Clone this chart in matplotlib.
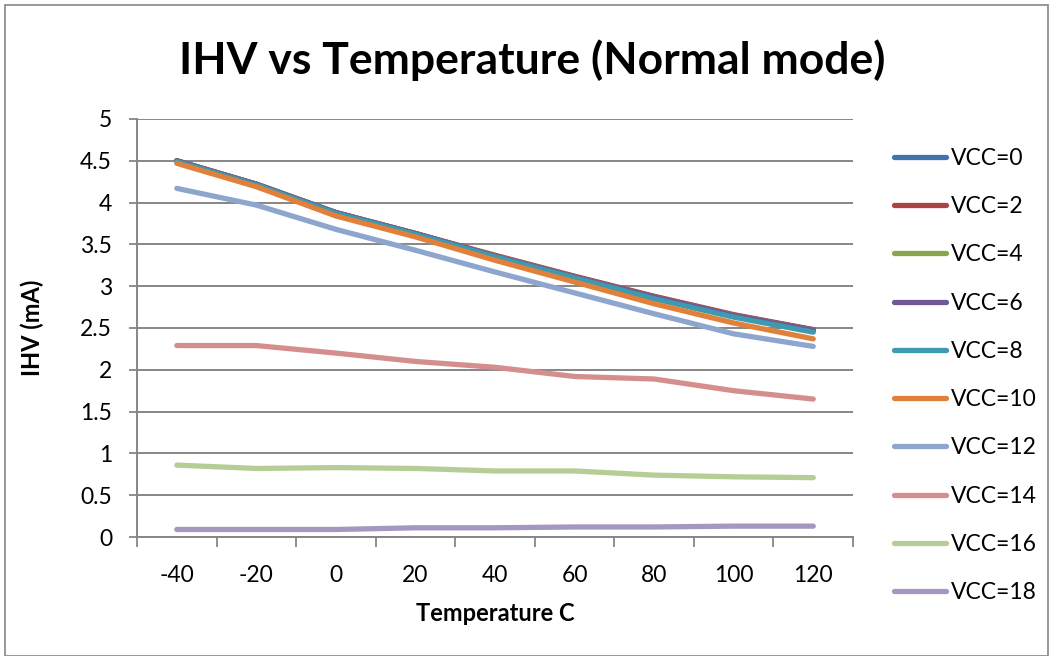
import matplotlib.pyplot as plt
from matplotlib.patches import Rectangle

# Data
temps = [-40, -20, 0, 20, 40, 60, 80, 100, 120]
vcc_labels = ['VCC=0', 'VCC=2', 'VCC=4', 'VCC=6', 'VCC=8',
              'VCC=10', 'VCC=12', 'VCC=14', 'VCC=16', 'VCC=18']

ihv_vcc0 = [4.50, 4.22, 3.88, 3.63, 3.36, 3.11, 2.87, 2.65, 2.48]
ihv_vcc2 = [4.50, 4.22, 3.88, 3.63, 3.37, 3.12, 2.88, 2.66, 2.48]
ihv_vcc4 = [4.50, 4.22, 3.88, 3.63, 3.36, 3.11, 2.87, 2.65, 2.47]
ihv_vcc6 = [4.50, 4.22, 3.88, 3.63, 3.36, 3.11, 2.87, 2.65, 2.47]
ihv_vcc8 = [4.49, 4.21, 3.87, 3.62, 3.35, 3.10, 2.85, 2.63, 2.45]
ihv_vcc10 = [4.47, 4.19, 3.84, 3.59, 3.31, 3.05, 2.79, 2.56, 2.37]
ihv_vcc12 = [4.17, 3.97, 3.68, 3.43, 3.17, 2.92, 2.67, 2.43, 2.28]
ihv_vcc14 = [2.29, 2.29, 2.20, 2.10, 2.03, 1.92, 1.89, 1.75, 1.65]
ihv_vcc16 = [0.86, 0.82, 0.83, 0.82, 0.79, 0.79, 0.74, 0.72, 0.71]
ihv_vcc18 = [0.09, 0.09, 0.09, 0.11, 0.11, 0.12, 0.12, 0.13, 0.13]

series = [ihv_vcc0, ihv_vcc2, ihv_vcc4, ihv_vcc6, ihv_vcc8,
          ihv_vcc10, ihv_vcc12, ihv_vcc14, ihv_vcc16, ihv_vcc18]
colors = ['#4174AE', '#AA4442', '#89A64D', '#705797', '#3E9AB1',
          '#E0803A', '#8EA6CE', '#D48F8D', '#B6CE95', '#A697C0']

plt.rcParams['font.family'] = ['Lato', 'DejaVu Sans']

fig = plt.figure(figsize=(10.5, 6.56), dpi=100)
fig.patches.append(Rectangle((0.005, 0.0), 0.993, 0.992, transform=fig.transFigure,
                             fill=False, edgecolor='#868686', linewidth=1.2))
ax = fig.add_axes([0.1305, 0.1814, 0.6819, 0.6372])

x = list(range(len(temps)))
for vals, lab, col in zip(series, vcc_labels, colors):
    ax.plot(x, vals, color=col, linewidth=3.8, label=lab, solid_capstyle='round')

ax.set_xlim(-0.5, len(temps) - 0.5)
ax.set_ylim(0, 5)
ax.set_yticks([0, 0.5, 1, 1.5, 2, 2.5, 3, 3.5, 4, 4.5, 5])
ax.set_yticklabels(['0', '0.5', '1', '1.5', '2', '2.5', '3', '3.5', '4', '4.5', '5'])
ax.set_xticks(x)
ax.set_xticklabels([str(t) for t in temps])
ax.set_xticks([i + 0.5 for i in range(-1, len(temps))], minor=True)
ax.tick_params(axis='x', which='major', length=0, labelsize=16.5, pad=20)
ax.tick_params(axis='x', which='minor', length=7, width=1.3, color='#868686')
ax.tick_params(axis='y', length=6, width=1.3, color='#868686', labelsize=16.5, pad=12)

ax.grid(axis='y', color='#868686', linewidth=1.4)
ax.set_axisbelow(True)
for s in ['top', 'right']:
    ax.spines[s].set_visible(False)
for s in ['left', 'bottom']:
    ax.spines[s].set_color('#868686')
    ax.spines[s].set_linewidth(1.4)

ax.set_xlabel('Temperature C', fontsize=17, fontweight='bold', labelpad=12)
ax.set_ylabel('IHV (mA)', fontsize=17, fontweight='bold', labelpad=26)
fig.text(0.507, 0.908, 'IHV vs Temperature (Normal mode)', ha='center', va='center',
         fontsize=32, fontweight='bold')

ax.legend(loc='upper left', bbox_to_anchor=(1.044, 0.953), frameon=False, fontsize=16.5,
          handlelength=2.3, handletextpad=0.2, labelspacing=1.19, borderaxespad=0)

fig.savefig('out.png', dpi=100)
